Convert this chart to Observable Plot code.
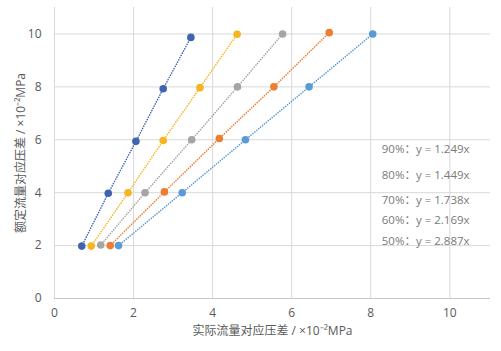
<!DOCTYPE html>
<html>
<head>
<meta charset="utf-8">
<script src="https://cdn.jsdelivr.net/npm/d3@7"></script>
<script src="https://cdn.jsdelivr.net/npm/@observablehq/plot@0.6"></script>
<style>
  html, body { margin: 0; padding: 0; background: #fff; }
  #chart { width: 501px; height: 351px; }
  svg { font-family: "Open Sans", "Noto Sans CJK SC", sans-serif; }
</style>
</head>
<body>
<div id="chart"></div>
<script>
// Series (opening %), colours and equations
const seriesNames = ["90%", "80%", "70%", "60%", "50%"];
const seriesColors = ["#5b9bd5", "#ed7d31", "#a5a5a5", "#f5b520", "#3f64b1"];
const equations = ["y = 1.249x", "y = 1.449x", "y = 1.738x", "y = 2.169x", "y = 2.887x"];

// Actual flow pressure difference (x) and rated flow pressure difference (y), ×10⁻²MPa
const x90 = [1.62, 3.23, 4.83, 6.44, 8.05];
const y90 = [2.0, 4.0, 6.0, 8.0, 10.0];
const x80 = [1.41, 2.78, 4.17, 5.55, 6.95];
const y80 = [2.0, 4.03, 6.05, 8.0, 10.05];
const x70 = [1.17, 2.29, 3.47, 4.63, 5.77];
const y70 = [2.02, 4.0, 6.0, 8.0, 10.0];
const x60 = [0.93, 1.86, 2.75, 3.68, 4.62];
const y60 = [1.98, 4.0, 5.97, 7.97, 9.99];
const x50 = [0.69, 1.36, 2.06, 2.75, 3.45];
const y50 = [1.98, 3.98, 5.94, 7.93, 9.87];

const xTicks = [0, 2, 4, 6, 8, 10];
const yTicks = [0, 2, 4, 6, 8, 10];

// Equation label anchors (data units)
const labelX = 8.28;
const labelY = [5.65, 4.64, 3.73, 2.94, 2.18];

const xs = [x90, x80, x70, x60, x50];
const ys = [y90, y80, y70, y60, y50];
const points = [];
seriesNames.forEach((s, i) => {
  xs[i].forEach((v, j) => points.push({series: s, x: v, y: ys[i][j]}));
});
const labels = seriesNames.map((s, i) => ({text: s + "：" + equations[i], x: labelX, y: labelY[i]}));

const chart = Plot.plot({
  width: 501,
  height: 351,
  marginLeft: 54,
  marginRight: 11,
  marginTop: 7,
  marginBottom: 53,
  style: {fontSize: "12px", color: "#595959", background: "#fff"},
  x: {domain: [0, 11.03], ticks: xTicks},
  y: {domain: [0, 11], ticks: yTicks},
  color: {domain: seriesNames, range: seriesColors},
  marks: [
    Plot.gridX(xTicks, {stroke: "#d9d9d9", strokeOpacity: 1, strokeWidth: 1}),
    Plot.gridY(yTicks, {stroke: "#d9d9d9", strokeOpacity: 1, strokeWidth: 1}),
    Plot.ruleY([0], {stroke: "#c8c8c8", strokeWidth: 1}),
    Plot.axisX({ticks: xTicks, tickSize: 0, tickPadding: 10, fill: "#595959",
      label: "实际流量对应压差 / ×10⁻²MPa", labelAnchor: "center", labelArrow: "none", labelOffset: 36}),
    Plot.axisY({ticks: yTicks, tickSize: 0, tickPadding: 13, fill: "#595959",
      label: "额定流量对应压差 / ×10⁻²MPa", labelAnchor: "center", labelArrow: "none", labelOffset: 38}),
    Plot.line(points, {x: "x", y: "y", z: "series", stroke: "series", strokeWidth: 1.6,
      strokeDasharray: "0.1 2.4", strokeLinecap: "round"}),
    Plot.dot(points, {x: "x", y: "y", fill: "series", r: 3.8, stroke: "none"}),
    Plot.text(labels, {x: "x", y: "y", text: "text", textAnchor: "start", fill: "#7a7a7a", fontSize: 11.5})
  ]
});
document.getElementById("chart").appendChild(chart);
</script>
</body>
</html>
